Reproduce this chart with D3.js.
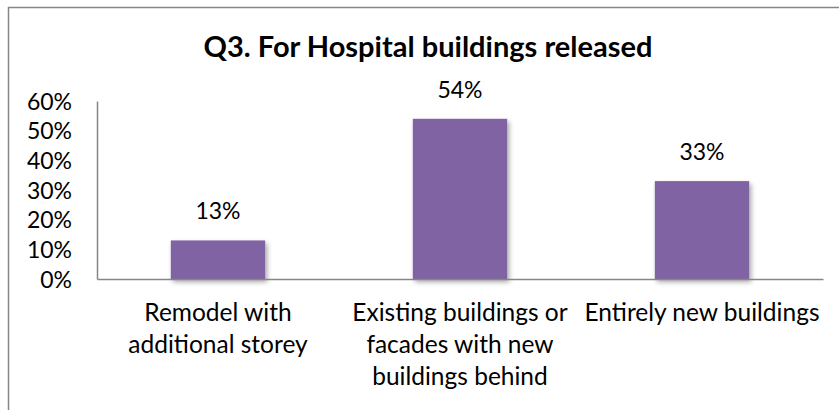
<!DOCTYPE html>
<html>
<head>
	<title> Q3 bar chart </title>
	<script src="https://d3js.org/d3.v7.min.js"></script>
	<style>
		body { margin: 0; background: #fff; }
		text { font-family: Lato, "Open Sans", sans-serif; fill: #000; }
	</style>
</head>
<body>
	<svg width="839" height="410"></svg>
	<script type="text/javascript">
		// chart data
		let title = "Q3. For Hospital buildings released";
		let categories = ["Remodel with additional storey",
		                  "Existing buildings or facades with new buildings behind",
		                  "Entirely new buildings"];
		let categoryLines = [["Remodel with", "additional storey"],
		                     ["Existing buildings or", "facades with new", "buildings behind"],
		                     ["Entirely new buildings"]];
		let values = [0.13, 0.54, 0.33];
		let valueLabels = ["13%", "54%", "33%"];
		let yTicks = [0, 0.1, 0.2, 0.3, 0.4, 0.5, 0.6];

		let svg = d3.select("svg");
		let plotLeft = 97, plotRight = 823, plotTop = 101, plotBottom = 279;

		// drop shadow for the bars
		let defs = svg.append("defs");
		let f = defs.append("filter").attr("id", "shadow")
			.attr("x", "-20%").attr("y", "-20%").attr("width", "140%").attr("height", "140%");
		f.append("feDropShadow").attr("dx", 2).attr("dy", 3).attr("stdDeviation", 2.5)
			.attr("flood-color", "#000").attr("flood-opacity", 0.35);

		// outer border
		svg.append("rect")
			.attr("x", 8.5).attr("y", 7.5).attr("width", 840).attr("height", 420)
			.attr("fill", "none").attr("stroke", "#868686").attr("stroke-width", 1.5);

		svg.append("text")
			.attr("x", 428).attr("y", 57)
			.attr("text-anchor", "middle")
			.style("font-size", "29px").style("font-weight", "bold")
			.text(title);

		let x = d3.scaleBand().domain(categories).range([plotLeft, plotRight]).paddingInner(0.61).paddingOuter(0.305);
		let y = d3.scaleLinear().domain([0, 0.6]).range([plotBottom, plotTop]);

		// bars
		svg.selectAll("rect.bar").data(values).join("rect")
			.attr("class", "bar")
			.attr("x", (d, i) => x(categories[i]))
			.attr("y", d => y(d))
			.attr("width", x.bandwidth())
			.attr("height", d => y(0) - y(d))
			.attr("fill", "#8064A2")
			.attr("filter", "url(#shadow)");

		// value labels
		svg.selectAll("text.val").data(values).join("text")
			.attr("class", "val")
			.attr("x", (d, i) => x(categories[i]) + x.bandwidth() / 2)
			.attr("y", d => y(d) - 21)
			.attr("text-anchor", "middle")
			.style("font-size", "23px")
			.text((d, i) => valueLabels[i]);

		// y axis
		let yAxis = d3.axisLeft(y).tickValues(yTicks).tickFormat(d3.format(".0%")).tickSize(0).tickPadding(25);
		let gy = svg.append("g").attr("transform", `translate(${plotLeft},0)`).call(yAxis);
		gy.select(".domain").attr("stroke", "#868686").attr("stroke-width", 1.5);
		gy.selectAll("text").style("font-size", "23px").attr("dy", "0.36em")
			.style("font-family", "Lato, sans-serif").attr("fill", "#000");

		// x axis
		let xAxis = d3.axisBottom(x).tickSize(0).tickFormat("");
		let gx = svg.append("g").attr("transform", `translate(0,${plotBottom})`).call(xAxis);
		gx.select(".domain").attr("stroke", "#868686").attr("stroke-width", 1.5);

		// category labels, wrapped
		categories.forEach(function(c, i) {
			let t = svg.append("text")
				.attr("x", x(c) + x.bandwidth() / 2)
				.attr("y", 321)
				.attr("text-anchor", "middle")
				.style("font-size", "24.5px");
			categoryLines[i].forEach(function(line, j) {
				t.append("tspan").attr("x", x(c) + x.bandwidth() / 2).attr("y", 321 + 32 * j).text(line);
			});
		});
	</script>
</body>
</html>
